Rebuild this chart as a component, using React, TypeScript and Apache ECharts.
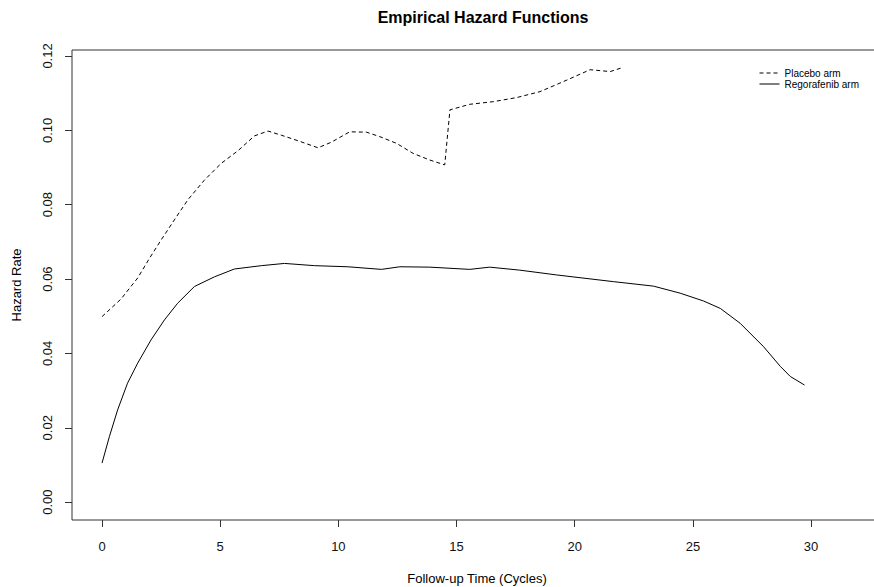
import React, { useEffect, useRef } from "react";
import * as echarts from "echarts";

const placeboTime = [0, 0.8, 1.51, 2.0, 2.5, 3.06, 3.63, 4.33, 5.04, 5.75, 6.45, 7.02, 7.58, 8.29, 9.14, 9.7, 10.48, 11.19, 11.75, 12.46, 13.16, 13.87, 14.5, 14.72, 15.56, 16.55, 17.54, 18.53, 19.52, 20.65, 21.5, 21.99];
const placeboHazard = [0.0499, 0.0546, 0.0603, 0.0655, 0.0705, 0.0759, 0.0813, 0.0866, 0.0911, 0.0945, 0.0985, 0.0998, 0.0987, 0.0972, 0.0953, 0.0968, 0.0996, 0.0995, 0.0983, 0.0965, 0.0938, 0.092, 0.0907, 0.1055, 0.107, 0.1077, 0.1088, 0.1104, 0.1131, 0.1163, 0.1158, 0.1168];

const regoTime = [0, 0.31, 0.66, 1.08, 1.51, 2.07, 2.64, 3.2, 3.91, 4.76, 5.6, 6.74, 7.72, 8.99, 10.4, 11.82, 12.6, 13.87, 15.56, 16.4, 17.67, 19.24, 21.64, 23.33, 24.46, 25.45, 26.16, 27.0, 27.99, 28.7, 29.12, 29.72];
const regoHazard = [0.0105, 0.0176, 0.0248, 0.032, 0.0374, 0.0436, 0.049, 0.0535, 0.058, 0.0606, 0.0627, 0.0636, 0.0642, 0.0636, 0.0633, 0.0626, 0.0633, 0.0632, 0.0626, 0.0632, 0.0624, 0.0611, 0.0593, 0.0581, 0.0562, 0.0541, 0.0521, 0.0481, 0.0418, 0.0365, 0.0338, 0.0315];

const xTicks = [0, 5, 10, 15, 20, 25, 30];
const yTicks = [0, 0.02, 0.04, 0.06, 0.08, 0.1, 0.12];
const seriesNames = ["Placebo arm", "Regorafenib arm"];

const FONT = "'Liberation Sans', Arial, sans-serif";

export default function App() {
  const ref = useRef<HTMLDivElement>(null);
  useEffect(() => {
    if (!ref.current) return;
    const chart = echarts.init(ref.current, null, { renderer: "svg" });
    const pairs = (xs: number[], ys: number[]) => xs.map((x, i) => [x, ys[i]]);
    chart.setOption({
      animation: false,
      backgroundColor: "#fff",
      textStyle: { fontFamily: FONT },
      title: {
        text: "Empirical Hazard Functions",
        left: 478,
        textAlign: "center",
        top: 4,
        textStyle: { fontFamily: FONT, fontSize: 16, fontWeight: "bold", color: "#000" },
      },
      legend: {
        orient: "vertical",
        left: 759,
        top: 68,
        padding: 0,
        itemWidth: 20,
        itemHeight: 10,
        itemGap: 1,
        itemStyle: { opacity: 0 },
        lineStyle: { width: 1 },
        textStyle: { fontFamily: FONT, fontSize: 10, color: "#000" },
        data: seriesNames,
      },
      grid: {
        left: 72,
        right: -8,
        top: 50,
        bottom: 67,
        outerBoundsMode: "none",
        containLabel: false,
        show: true,
        borderColor: "#333",
        borderWidth: 1,
        backgroundColor: "transparent",
      },
      xAxis: {
        type: "value",
        min: -1.27,
        max: 33.0,
        name: "Follow-up Time (Cycles)",
        nameLocation: "middle",
        nameGap: 52,
        nameTextStyle: { fontFamily: FONT, fontSize: 13, color: "#000" },
        axisLine: { show: false, onZero: false },
        axisTick: { show: true, length: 7, inside: false, customValues: xTicks, lineStyle: { color: "#333" } },
        axisLabel: { customValues: xTicks, margin: 20, fontSize: 13, color: "#111", fontFamily: FONT },
        splitLine: { show: false },
      },
      yAxis: {
        type: "value",
        min: -0.0048,
        max: 0.1216,
        name: "Hazard Rate",
        nameLocation: "middle",
        nameRotate: 90,
        nameGap: 49,
        nameTextStyle: { fontFamily: FONT, fontSize: 13, color: "#000" },
        axisLine: { show: false, onZero: false },
        axisTick: { show: true, length: 7, inside: false, customValues: yTicks, lineStyle: { color: "#333" } },
        axisLabel: {
          customValues: yTicks,
          rotate: 90,
          margin: 18,
          fontSize: 13,
          color: "#111",
          fontFamily: FONT,
          formatter: (v: number) => v.toFixed(2),
        },
        splitLine: { show: false },
      },
      series: [
        {
          name: seriesNames[0],
          type: "line",
          symbol: "none",
          smooth: false,
          data: pairs(placeboTime, placeboHazard),
          lineStyle: { color: "#000", width: 1, type: [4, 3] },
          itemStyle: { color: "#000" },
        },
        {
          name: seriesNames[1],
          type: "line",
          symbol: "none",
          smooth: false,
          data: pairs(regoTime, regoHazard),
          lineStyle: { color: "#000", width: 1, type: "solid" },
          itemStyle: { color: "#000" },
        },
      ],
    });
    return () => chart.dispose();
  }, []);
  return <div ref={ref} style={{ width: 874, height: 587, position: "absolute", left: 0, top: 0 }} />;
}
